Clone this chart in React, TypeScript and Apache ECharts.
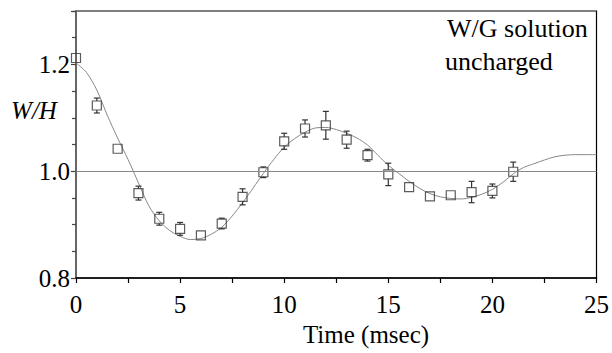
import React, { useEffect, useRef } from "react";
import * as echarts from "echarts";

const times = [0, 1, 2, 3, 4, 5, 6, 7, 8, 9, 10, 11, 12, 13, 14, 15, 16, 17, 18, 19, 20, 21];
const ratio = [1.212, 1.123, 1.042, 0.959, 0.911, 0.892, 0.880, 0.902, 0.952, 0.998, 1.056, 1.080, 1.086, 1.059, 1.030, 0.994, 0.970, 0.953, 0.955, 0.961, 0.963, 0.999];
const errs = [0.006, 0.014, 0.005, 0.013, 0.012, 0.012, 0.004, 0.010, 0.015, 0.010, 0.015, 0.016, 0.026, 0.016, 0.011, 0.021, 0.006, 0.004, 0.004, 0.020, 0.013, 0.018];

const fitT = [0, 0.5, 1, 1.5, 2, 2.5, 3, 3.5, 4, 4.5, 5, 5.5, 6, 6.5, 7, 7.5, 8, 8.5, 9, 9.5, 10, 10.5, 11, 11.5, 12, 12.5, 13, 13.5, 14, 14.5, 15, 15.5, 16, 16.5, 17, 17.5, 18, 18.5, 19, 19.5, 20, 20.5, 21, 21.5, 22, 22.5, 23, 23.5, 24, 24.5, 25];
const fitY = [1.203, 1.185, 1.152, 1.105, 1.062, 1.022, 0.978, 0.935, 0.907, 0.889, 0.878, 0.872, 0.874, 0.882, 0.895, 0.916, 0.941, 0.968, 0.996, 1.022, 1.045, 1.061, 1.073, 1.081, 1.082, 1.078, 1.071, 1.062, 1.049, 1.030, 1.011, 0.996, 0.981, 0.968, 0.958, 0.952, 0.949, 0.948, 0.951, 0.957, 0.966, 0.979, 0.995, 1.007, 1.014, 1.021, 1.027, 1.030, 1.031, 1.031, 1.031];

const xTicks = [0, 5, 10, 15, 20, 25];
const yTicks = [0.8, 1.0, 1.2];

const FONT = "Liberation Serif, Tinos, Times New Roman, Times, DejaVu Serif, serif";

export default function App() {
  const ref = useRef<HTMLDivElement>(null);
  useEffect(() => {
    if (!ref.current) return;
    const chart = echarts.init(ref.current, undefined, { renderer: "svg" });
    const half = 4.5;
    chart.setOption({
      animation: false,
      backgroundColor: "#ffffff",
      textStyle: { fontFamily: FONT },
      grid: {
        left: 76,
        right: 11,
        top: 11,
        bottom: 75,
        show: true,
        borderColor: "#000",
        borderWidth: 1.2,
        backgroundColor: "transparent",
      },
      xAxis: {
        type: "value",
        min: 0,
        max: 25,
        interval: 5,
        axisLine: { show: true, onZero: false, lineStyle: { color: "#000", width: 1.5 } },
        axisTick: { show: true, length: 5, lineStyle: { color: "#000", width: 1.2 } },
        minorTick: { show: true, splitNumber: 2, length: 5, lineStyle: { color: "#000", width: 1.2 } },
        splitLine: { show: false },
        axisLabel: {
          margin: 14,
          fontFamily: FONT,
          fontSize: 25,
          color: "#000",
          formatter: (v: number) => (xTicks.indexOf(v) >= 0 ? String(v) : ""),
        },
      },
      yAxis: {
        type: "value",
        min: 0.8,
        max: 1.3,
        interval: 0.2,
        axisLine: { show: true, onZero: false, lineStyle: { color: "#666", width: 2 } },
        axisTick: { show: true, length: 5, lineStyle: { color: "#444", width: 1.2 } },
        minorTick: { show: true, splitNumber: 4, length: 4, lineStyle: { color: "#444", width: 1.2 } },
        splitLine: { show: false },
        axisLabel: {
          margin: 6,
          fontFamily: FONT,
          fontSize: 25,
          color: "#000",
          showMaxLabel: false,
          formatter: (v: number) => {
            const hit = yTicks.find((t) => Math.abs(t - v) < 1e-6);
            return hit !== undefined ? hit.toFixed(1) : "";
          },
        },
      },
      series: [
        {
          type: "line",
          data: fitT.map((t, i) => [t, fitY[i]]),
          smooth: 0.3,
          showSymbol: false,
          lineStyle: { color: "#888", width: 1 },
          z: 2,
          markLine: {
            silent: true,
            symbol: ["none", "none"],
            label: { show: false },
            lineStyle: { color: "#888", width: 1, type: "solid" },
            data: [{ yAxis: 1.0 }],
          },
        },
        {
          type: "custom",
          data: times.map((t, i) => [t, ratio[i], errs[i]]),
          z: 3,
          renderItem: (params: any, api: any) => {
            const x = api.value(0);
            const y = api.value(1);
            const e = api.value(2);
            const c = api.coord([x, y]);
            const top = api.coord([x, y + e]);
            const bot = api.coord([x, y - e]);
            const children: any[] = [];
            const st = { stroke: "#333", lineWidth: 1.2 };
            if (c[1] - top[1] > half) {
              children.push({ type: "line", shape: { x1: c[0], y1: c[1] - half, x2: c[0], y2: top[1] }, style: st });
              children.push({ type: "line", shape: { x1: c[0] - 3, y1: top[1], x2: c[0] + 3, y2: top[1] }, style: st });
            }
            if (bot[1] - c[1] > half) {
              children.push({ type: "line", shape: { x1: c[0], y1: c[1] + half, x2: c[0], y2: bot[1] }, style: st });
              children.push({ type: "line", shape: { x1: c[0] - 3, y1: bot[1], x2: c[0] + 3, y2: bot[1] }, style: st });
            }
            return { type: "group", children };
          },
        },
        {
          type: "scatter",
          data: times.map((t, i) => [t, ratio[i]]),
          symbol: "rect",
          symbolSize: 9,
          itemStyle: { color: "rgba(255,255,255,0)", borderColor: "#333", borderWidth: 1.2 },
          z: 4,
        },
      ],
      graphic: [
        {
          type: "text",
          left: 447,
          top: 15,
          style: { text: "W/G solution", fontFamily: FONT, fontSize: 26, fill: "#000" },
        },
        {
          type: "text",
          left: 445,
          top: 48,
          style: { text: "uncharged", fontFamily: FONT, fontSize: 26, fill: "#000" },
        },
        {
          type: "text",
          x: 366,
          y: 334,
          style: { text: "Time (msec)", fontFamily: FONT, fontSize: 25, fill: "#000", align: "center", verticalAlign: "middle" },
        },
        {
          type: "text",
          x: 34,
          y: 110,
          style: { text: "W/H", fontFamily: FONT, fontSize: 25, fontStyle: "italic", fill: "#000", align: "center", verticalAlign: "middle" },
        },
      ],
    });
    return () => chart.dispose();
  }, []);
  return <div ref={ref} style={{ width: 612, height: 353, position: "absolute", left: 0, top: 0 }} />;
}
